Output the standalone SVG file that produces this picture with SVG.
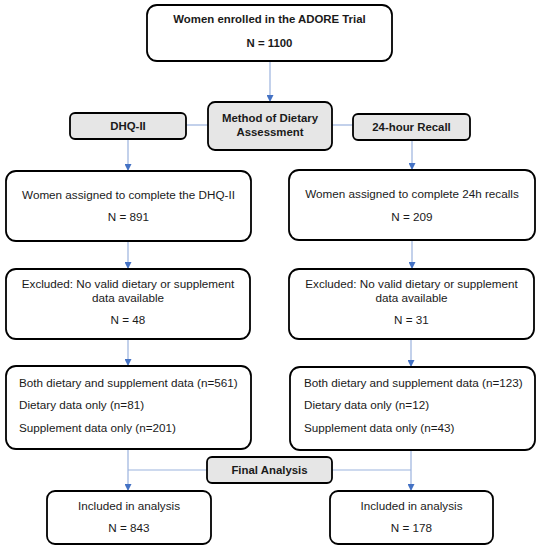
<svg xmlns="http://www.w3.org/2000/svg" width="539" height="550" viewBox="0 0 539 550">
<style>
  .box{fill:#ffffff;stroke:#000000;stroke-width:1.8}
  .gbox{fill:#e6e6e6;stroke:#000000;stroke-width:1.8}
  .t{font-family:"Liberation Sans",Arial,sans-serif;font-size:11.7px;fill:#1a1a1a}
  .b{font-family:"Liberation Sans",Arial,sans-serif;font-size:11.4px;font-weight:bold;fill:#1a1a1a}
  .c{text-anchor:middle}
  .ln{stroke:#9bb3de;stroke-width:1.2;fill:none}
</style>
<defs>
  <marker id="ah" viewBox="0 0 10 10" refX="10" refY="5" markerWidth="7" markerHeight="7" orient="auto" markerUnits="userSpaceOnUse">
    <path d="M0,0 L10,5 L0,10 z" fill="#4472c4"/>
  </marker>
</defs>
<rect width="539" height="550" fill="#ffffff"/>
<g id="connectors">
  <line class="ln" x1="270" y1="61" x2="270" y2="102" marker-end="url(#ah)"/>
  <line class="ln" x1="186" y1="125" x2="208" y2="125"/>
  <line class="ln" x1="332" y1="125" x2="353" y2="125"/>
  <line class="ln" x1="128" y1="139" x2="128" y2="171" marker-end="url(#ah)"/>
  <line class="ln" x1="412" y1="140" x2="412" y2="170" marker-end="url(#ah)"/>
  <line class="ln" x1="128" y1="241" x2="128" y2="269" marker-end="url(#ah)"/>
  <line class="ln" x1="412" y1="240" x2="412" y2="269" marker-end="url(#ah)"/>
  <line class="ln" x1="128" y1="339" x2="128" y2="366" marker-end="url(#ah)"/>
  <line class="ln" x1="411" y1="339" x2="411" y2="367" marker-end="url(#ah)"/>
  <line class="ln" x1="128" y1="449" x2="128" y2="491" marker-end="url(#ah)"/>
  <line class="ln" x1="411" y1="450" x2="411" y2="491" marker-end="url(#ah)"/>
  <line class="ln" x1="128" y1="470" x2="207" y2="470"/>
  <line class="ln" x1="332" y1="470" x2="411" y2="470"/>
</g>
<g id="enrolled">
  <rect class="box" x="147" y="5" width="245" height="56" rx="10"/>
  <text class="b c" x="269.5" y="23">Women enrolled in the ADORE Trial</text>
  <text class="b c" x="269.5" y="47">N = 1100</text>
</g>
<g id="method">
  <rect class="gbox" x="208" y="102" width="124" height="48" rx="7"/>
  <text class="b c" x="270" y="122">Method of Dietary</text>
  <text class="b c" x="270" y="136">Assessment</text>
</g>
<g id="dhq">
  <rect class="gbox" x="70" y="113" width="116" height="26" rx="5"/>
  <text class="b c" x="128" y="130">DHQ-II</text>
</g>
<g id="recall24">
  <rect class="gbox" x="353" y="114" width="117" height="26" rx="5"/>
  <text class="b c" x="411.5" y="131">24-hour Recall</text>
</g>
<g id="assigned-dhq">
  <rect class="box" x="6" y="171" width="245" height="70" rx="10"/>
  <text class="t c" x="128.5" y="199">Women assigned to complete the DHQ-II</text>
  <text class="t c" x="128.5" y="221">N = 891</text>
</g>
<g id="assigned-24h">
  <rect class="box" x="289" y="170" width="246" height="70" rx="10"/>
  <text class="t c" x="412" y="198">Women assigned to complete 24h recalls</text>
  <text class="t c" x="412" y="221">N = 209</text>
</g>
<g id="excluded-dhq">
  <rect class="box" x="6" y="269" width="244" height="70" rx="10"/>
  <text class="t c" x="128" y="288">Excluded: No valid dietary or supplement</text>
  <text class="t c" x="128" y="302">data available</text>
  <text class="t c" x="128" y="324">N = 48</text>
</g>
<g id="excluded-24h">
  <rect class="box" x="289" y="269" width="245" height="70" rx="10"/>
  <text class="t c" x="411.5" y="288">Excluded: No valid dietary or supplement</text>
  <text class="t c" x="411.5" y="302">data available</text>
  <text class="t c" x="411.5" y="324">N = 31</text>
</g>
<g id="data-dhq">
  <rect class="box" x="6" y="366" width="245" height="83" rx="10"/>
  <text class="t" x="19" y="387">Both dietary and supplement data (n=561)</text>
  <text class="t" x="19" y="409">Dietary data only (n=81)</text>
  <text class="t" x="19" y="432">Supplement data only (n=201)</text>
</g>
<g id="data-24h">
  <rect class="box" x="290" y="367" width="245" height="83" rx="10"/>
  <text class="t" x="304" y="387">Both dietary and supplement data (n=123)</text>
  <text class="t" x="304" y="409">Dietary data only (n=12)</text>
  <text class="t" x="304" y="432">Supplement data only (n=43)</text>
</g>
<g id="final">
  <rect class="gbox" x="207" y="457" width="125" height="26" rx="5"/>
  <text class="b c" x="269.5" y="474">Final Analysis</text>
</g>
<g id="included-dhq">
  <rect class="box" x="47" y="491" width="164" height="53" rx="8"/>
  <text class="t c" x="129" y="510">Included in analysis</text>
  <text class="t c" x="129" y="532">N = 843</text>
</g>
<g id="included-24h">
  <rect class="box" x="330" y="491" width="163" height="53" rx="8"/>
  <text class="t c" x="411.5" y="510">Included in analysis</text>
  <text class="t c" x="411.5" y="532">N = 178</text>
</g>
</svg>
